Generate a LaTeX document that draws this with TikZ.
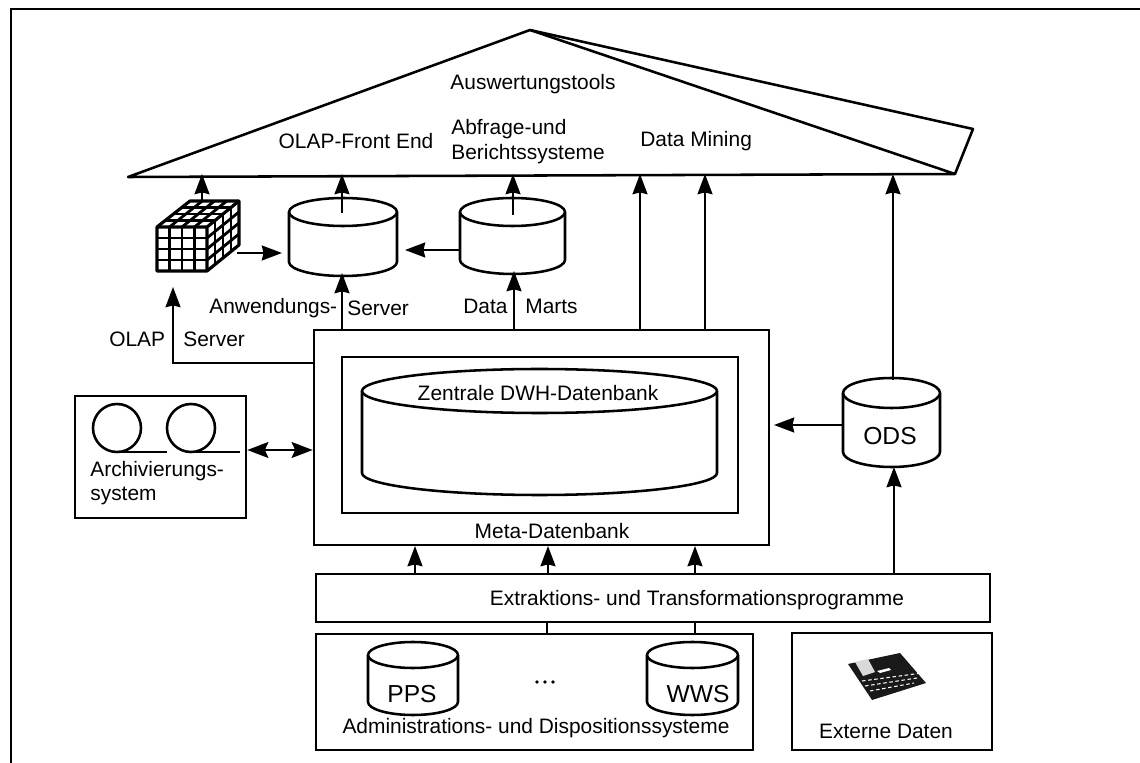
\documentclass[tikz,border=0pt]{standalone}
\usepackage{fontspec}
\setmainfont{Liberation Sans}
\usetikzlibrary{arrows.meta,fit,calc}
\tikzset{
  x=0.02cm,y=-0.02cm,
  ln/.style={line width=1.45pt,black,line join=round},
  boxn/.style={draw,line width=1.45pt,inner sep=0pt,fill=white},
  arr/.style={line width=1.25pt,-{Stealth[length=11.5pt,width=8.5pt,inset=1pt]}},
  darr/.style={line width=1.5pt,{Stealth[length=12pt,width=9pt,inset=2pt]}-{Stealth[length=12pt,width=9pt,inset=2pt]}},
  lbl/.style={font=\fontsize{11.9}{14}\selectfont,inner sep=0pt,text=black,yshift=-0.6pt},
  biglbl/.style={lbl,font=\fontsize{14}{16}\selectfont},
}
% name, x1, x2, ytop-ellipse-centre, ry, yside-end
\newcommand{\cyln}[6]{%
  \pgfmathsetmacro{\cxx}{(#2+#3)/2}\pgfmathsetmacro{\rxx}{(#3-#2)/2}
  \filldraw[ln,fill=white] (#2,#4) -- (#2,#6) .. controls (#2,{#6+0.55*#5}) and ({\cxx-0.55*\rxx},{#6+#5}) .. (\cxx,{#6+#5})
     .. controls ({\cxx+0.55*\rxx},{#6+#5}) and (#3,{#6+0.55*#5}) .. (#3,#6) -- (#3,#4);
  \filldraw[ln,fill=white] (\cxx,#4) ellipse ({\rxx} and {#5});
  \node[fit={(#2,{#4-#5}) (#3,{#6+#5})},inner sep=0pt] (#1) {};
}
\begin{document}
\begin{tikzpicture}
\useasboundingbox (0,0) rectangle (1140,763);
\fill[white] (0,0) rectangle (1140,763);
% page frame
\draw[line width=1.4pt] (11,763) -- (11,9) -- (1140,9);

% roof
\draw[ln] (128,177) -- (530,30) -- (955,174) -- cycle;
\draw[ln] (530,30) -- (973,129) -- (955,174);

% cube
\begin{scope}[line width=1.6pt,line join=round]
 \draw[line width=1.8pt] (157,227) -- (190,201) -- (239,201) -- (239,245) -- (207,271) -- (157,271) -- cycle;
 \draw[line width=1.8pt] (157,227) -- (207,227) -- (239,201) (207,227) -- (207,271);
 \foreach \i in {1,2,3}{
   \pgfmathsetmacro{\f}{\i/4}
   \draw ({157+50*\f},227) -- ({157+50*\f},271);
   \draw (157,{227+44*\f}) -- (207,{227+44*\f});
   \draw ({157+50*\f},227) -- ({190+49*\f},201);
   \draw ({157+32.5*\f},{227-26*\f}) -- ({207+32*\f},{227-26*\f});
   \draw ({207+32*\f},{227-26*\f}) -- ({207+32*\f},{271-26*\f});
   \draw (207,{227+44*\f}) -- (239,{201+44*\f});
 }
\end{scope}
\node[fit={(157,201) (239,271)},inner sep=0pt] (cube) {};

% cylinders top row
\cyln{app}{289}{397}{212}{14}{262}
\cyln{mart}{460}{565}{212}{14}{260}

% arrows to the roof
\draw[arr] (202,201) -- (202,174);
\draw[arr] (342,213) -- (342,174);
\draw[arr] (513,215) -- (513,174);

% arrows between
\draw[arr] (237,253) -- (282,253);
\draw[arr] (mart.west |- 0,250) -- (405,250);

% meta box
\node[boxn,fit={(314,330) (769,545)}] (meta) {};
\node[boxn,fit={(342,357) (738,513)}] (inner) {};
\cyln{dwh}{362}{717}{391}{22}{473}
\node[lbl] (zd) at (538,392) {Zentrale DWH-Datenbank};
\node[lbl] (md) at (552,530) {Meta-Datenbank};

\draw[arr] (342,330) -- (342,273);
\draw[arr] (514,330) -- (514,271);
\draw[arr] (640,330) -- (640,174);
\draw[arr] (705,330) -- (705,174);
\draw[arr] (meta.west |- 0,363) -- (173,363) -- (173,287);

% labels on the middle row
\node[lbl,anchor=west] (anw) at (209,307) {Anwendungs-};
\node[lbl,anchor=west] (srv) at (347,307) {Server};
\node[lbl,anchor=west] (dat) at (463,305) {Data};
\node[lbl,anchor=west] (mar) at (525,305) {Marts};
\node[lbl,anchor=west] (olp) at (109,338) {OLAP};
\node[lbl,anchor=west] (srw) at (183,338) {Server};

% roof labels
\node[lbl] (aus) at (533,83) {Auswertungstools};
\node[lbl] (fro) at (356,140) {OLAP-Front End};
\node[lbl,anchor=west] (abf) at (451,128) {Abfrage-und};
\node[lbl,anchor=west] (ber) at (451,153) {Berichtssysteme};
\node[lbl,anchor=west] (dmi) at (640,140) {Data Mining};

% archive
\node[boxn,fit={(75,396) (246,518)}] (arch) {};
\draw[ln] (117,428) circle (24);
\draw[ln] (191,428) circle (24);
\draw[line width=1.1pt] (117,452) -- (167,452);
\draw[line width=1.1pt] (191,452) -- (240,452);
\node[lbl,anchor=west] (ar1) at (90,470) {Archivierungs-};
\node[lbl,anchor=west] (ar2) at (90,495) {system};
\draw[darr] (arch.east |- 0,450) -- (meta.west |- 0,450);

% ODS
\cyln{ods}{843}{940}{393}{15}{452}
\node[biglbl] (odt) at (890,435) {ODS};
\draw[arr] (ods.west |- 0,425) -- (774,425);
\draw[arr] (893,380) -- (893,174);

% extraction
\node[boxn,fit={(316,574) (990,622)}] (ext) {};
\node[lbl] (extt) at (697,599) {Extraktions- und Transformationsprogramme};
\draw[arr] (415,574) -- (415,546);
\draw[arr] (548,574) -- (548,546);
\draw[arr] (695,574) -- (695,546);
\draw[arr] (894,574) -- (894,467);

% admin
\node[boxn,fit={(316,634) (753,750)}] (adm) {};
\draw[line width=1.2pt] (547,622) -- (547,634);
\draw[line width=1.2pt] (695,622) -- (695,634);
\cyln{pps}{368}{458}{655}{13}{702}
\cyln{wws}{647}{738}{655}{13}{702}
\node[biglbl] (ppt) at (412,693) {PPS};
\node[biglbl] (wwt) at (698,693) {WWS};
\fill (537,682) circle (1.8) (545,682) circle (1.8) (553,682) circle (1.8);
\node[lbl] (adt) at (536,727) {Administrations- und Dispositionssysteme};

% external data
\node[boxn,fit={(792,633) (992,750)}] (extd) {};
\node[lbl] (edt) at (886,730) {Externe Daten};
\fill[black!90] (848,664) -- (900,653) -- (926,683) -- (872,700) -- cycle;
\fill[black!15] (855,662) -- (868,659) -- (875,672) -- (863,676) -- cycle;
\fill[white] (877,671) -- (889,668) -- (891,670) -- (880,673) -- cycle;
\foreach \a/\b/\c in {0/0/60,3/5/52,8/10/44}{
  \draw[white,line width=0.6pt,dash pattern=on 2pt off 1.5pt] ({862+\a},{681+\b}) -- ({862+\a+\c},{681+\b-8});
}
\end{tikzpicture}
\end{document}
